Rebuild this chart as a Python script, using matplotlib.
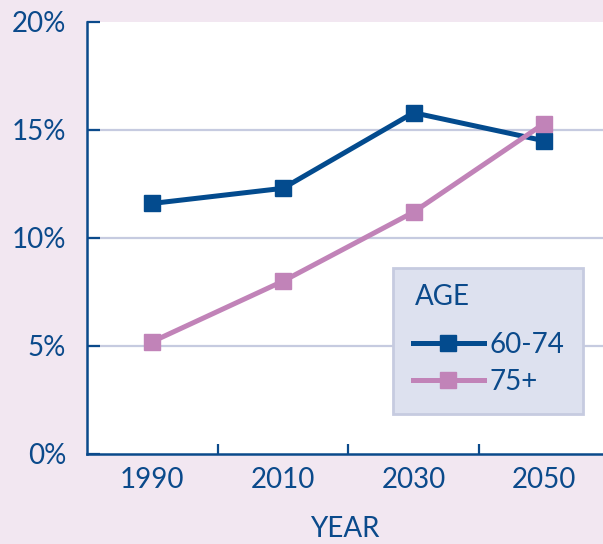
import matplotlib
matplotlib.use("Agg")
import matplotlib.pyplot as plt
from matplotlib.patches import Rectangle

years = ["1990", "2010", "2030", "2050"]
age_60_74 = [11.6, 12.3, 15.8, 14.5]
age_75_plus = [5.2, 8.0, 11.2, 15.3]
y_ticks = [0, 5, 10, 15, 20]
y_tick_labels = ["0%", "5%", "10%", "15%", "20%"]
grid_levels = [5, 10, 15]

BG = "#f2e7f1"
DARK = "#034b8e"
PINK = "#c183b8"
GRID = "#c6cbe0"
TEXT = "#0b4a8b"
plt.rcParams['font.family'] = ['Lato', 'DejaVu Sans']

W, H = 603, 544
fig = plt.figure(figsize=(W/100, H/100), dpi=100, facecolor=BG)
ax = fig.add_axes([87/W, 1-454/H, 1-87/W, (454-22)/H])
ax.set_facecolor("white")

for g in grid_levels:
    ax.axhline(g, color=GRID, lw=1.6, zorder=1)

x = list(range(len(years)))
ax.plot(x, age_60_74, color=DARK, lw=3.6, marker="s", ms=12, label="60-74", zorder=3)
ax.plot(x, age_75_plus, color=PINK, lw=3.6, marker="s", ms=12, label="75+", zorder=3)

ax.set_xlim(-0.5, 3.45)
ax.set_ylim(0, 20)

for s in ["top", "right"]:
    ax.spines[s].set_visible(False)
for s in ["left", "bottom"]:
    ax.spines[s].set_color(TEXT)
    ax.spines[s].set_linewidth(1.8)

ax.set_yticks(y_ticks, y_tick_labels)
ax.tick_params(axis="y", direction="in", length=9, width=1.6, color=TEXT,
               labelsize=20, labelcolor=TEXT, pad=15)
ax.set_xticks([0.5, 1.5, 2.5], ["", "", ""])
ax.tick_params(axis="x", which="major", direction="in", length=7, width=1.6, color=TEXT)
ax.set_xticks(x, years, minor=True)
ax.tick_params(axis="x", which="minor", length=0, labelsize=20, labelcolor=TEXT, pad=9)

ax.set_xlabel("YEAR", fontsize=20, color=TEXT, labelpad=17)

# legend box
box = Rectangle((393/W, 1-414/H), (583-393)/W, (414-268)/H, transform=fig.transFigure,
                facecolor="#dde1ef", edgecolor=GRID, lw=2, zorder=5, clip_on=False)
ax.add_patch(box)
ax.text(415/W, 1-297/H, "AGE", transform=fig.transFigure, fontsize=20, color=TEXT,
        ha="left", va="center", zorder=6)

leg = ax.legend(loc="center left", bbox_to_anchor=(413/W, 1-363.5/H),
                bbox_transform=fig.transFigure, fontsize=20,
                frameon=False, handlelength=2.55, handletextpad=0.2,
                labelspacing=0.4, borderpad=0, borderaxespad=0)
leg.set_zorder(7)
for t in leg.get_texts():
    t.set_color(TEXT)

fig.savefig("out.png", dpi=100, facecolor=BG)
